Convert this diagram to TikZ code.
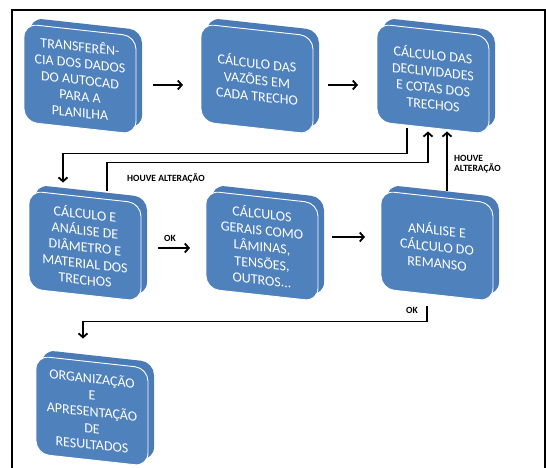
\documentclass[tikz,border=0pt]{standalone}
\usepackage{fontspec}
\setmainfont{Carlito}
\usetikzlibrary{arrows.meta,shadows}
\definecolor{boxblue}{HTML}{4F81BD}
\definecolor{backblue}{HTML}{4A7BB7}
\begin{document}
\begin{tikzpicture}[x=1pt,y=1pt,
  box/.style={rectangle,rounded corners=13pt,fill=boxblue,draw=white,line width=0.9pt,minimum width=112pt,minimum height=98pt,inner sep=0pt,text=white,align=center,font=\fontsize{14}{16.5}\selectfont,yslant=-0.11,
    general shadow={fill=backblue,shadow xshift=6pt,shadow yshift=6pt}},
  arr/.style={line width=1.8pt,-{Straight Barb[length=4pt,width=9pt]}},
  lbl/.style={font=\bfseries\fontsize{9.5}{10.5}\selectfont,inner sep=1pt}]
  \useasboundingbox (0,0) rectangle (546,468);
  \draw[line width=1.3pt] (12,-5) |- (545,458) -- (545,-5);

  % first row
  \node[box] (b1) at (80,389) {TRANSFERÊN-\\CIA DOS DADOS\\DO AUTOCAD\\PARA A\\PLANILHA};
  \node[box] (b2) at (257,389) {CÁLCULO DAS\\VAZÕES EM\\CADA TRECHO};
  \node[box] (b3) at (433,389) {CÁLCULO DAS\\DECLIVIDADES\\E COTAS DOS\\TRECHOS};
  % second row
  \node[box] (b4) at (85,222) {CÁLCULO E\\ANÁLISE DE\\DIÂMETRO E\\MATERIAL DOS\\TRECHOS};
  \node[box] (b5) at (262,222) {CÁLCULOS\\GERAIS COMO\\LÂMINAS,\\TENSÕES,\\OUTROS...};
  \node[box] (b6) at (437,222) {ANÁLISE E\\CÁLCULO DO\\REMANSO};
  % last box
  \node[box] (b7) at (92,57) {ORGANIZAÇÃO\\E\\APRESENTAÇÃO\\DE\\RESULTADOS};

  % straight arrows
  \draw[arr,shorten <=73pt,shorten >=74pt] ([yshift=-6pt]b1.center) -- ([yshift=-6pt]b2.center);
  \draw[arr,shorten <=71pt,shorten >=75pt] ([yshift=-6pt]b2.center) -- ([yshift=-6pt]b3.center);
  \draw[arr,shorten <=73pt,shorten >=72pt] ([yshift=-2pt]b4.center) -- node[lbl,above=5pt,pos=0.48] (ok1) {OK} ([yshift=-2pt]b5.center);
  \draw[arr,shorten <=70pt,shorten >=72pt] ([yshift=9pt]b5.center) -- ([yshift=9pt]b6.center);

  % loops
  \draw[arr,shorten >=14pt] ([xshift=-26pt]b3.south) -- ++(0,-25) -| ([xshift=-22pt]b4.north);
  \draw[arr,shorten >=3pt] ([xshift=22pt,yshift=6pt]b4.north) -- ++(0,28) -| ([xshift=-5pt]b3.south);
  \node[lbl] (alt1) at (166,290) {HOUVE ALTERAÇÃO};
  \draw[arr,shorten >=3pt] ([xshift=10pt,yshift=6pt]b6.north) -- ([xshift=14pt]b3.south);
  \node[lbl,anchor=west,align=left] (alt2) at (453,304) {HOUVE\\ALTERAÇÃO};
  \draw[arr,shorten <=11pt,shorten >=23pt] ([xshift=-10pt]b6.south) -- ++(0,-26) -| ([xshift=-9pt]b7.north);
  \node[lbl] (ok2) at (412,158) {OK};
\end{tikzpicture}
\end{document}
